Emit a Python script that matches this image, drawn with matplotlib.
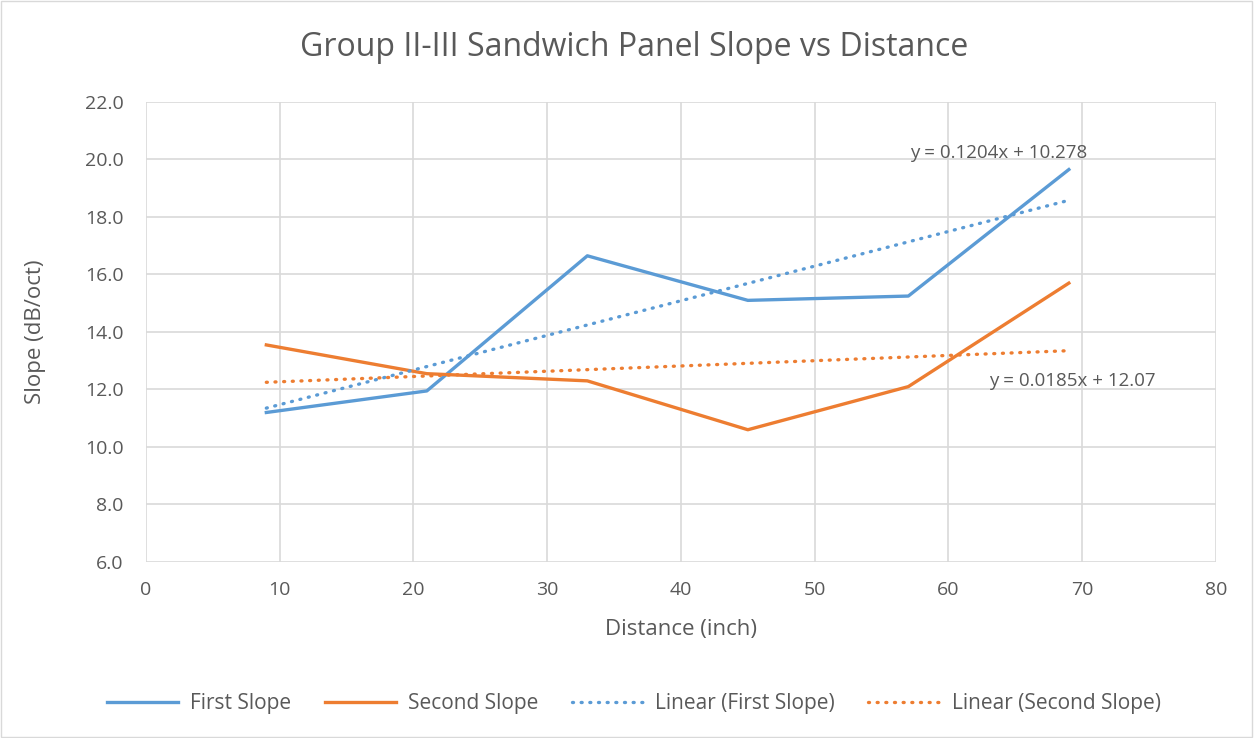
import numpy as np
import matplotlib.pyplot as plt

plt.rcParams['font.family'] = ['Open Sans', 'DejaVu Sans']

distance = [9, 21, 33, 45, 57, 69]
first_slope = [11.2, 11.95, 16.65, 15.1, 15.25, 19.65]
second_slope = [13.55, 12.55, 12.3, 10.6, 12.1, 15.7]

blue = '#5B9BD5'
orange = '#ED7D31'
grey = '#595959'

fig = plt.figure(figsize=(12.55, 7.38), dpi=100)
ax = fig.add_axes([0.1163, 0.2385, 0.8526, 0.6233])

ax.plot(distance, first_slope, color=blue, lw=2.4, label='First Slope')
ax.plot(distance, second_slope, color=orange, lw=2.4, label='Second Slope')

# linear trend lines
x = np.array(distance)
k1, b1 = np.polyfit(x, first_slope, 1)
k2, b2 = np.polyfit(x, second_slope, 1)
dots = (0, (0.3, 2.3))
ax.plot(x, k1 * x + b1, color=blue, lw=2.4, ls=dots,
        dash_capstyle='round', label='Linear (First Slope)')
ax.plot(x, k2 * x + b2, color=orange, lw=2.4, ls=dots,
        dash_capstyle='round', label='Linear (Second Slope)')

ax.text(70.4, 20.23, 'y = 0.1204x + 10.278', color=grey, fontsize=13.5,
        ha='right', va='center')
ax.text(75.5, 12.3, 'y = 0.0185x + 12.07', color=grey, fontsize=13.5,
        ha='right', va='center')

ax.set_xlim(0, 80)
ax.set_ylim(6, 22)
ax.set_xticks(range(0, 81, 10))
ax.set_yticks(np.arange(6, 22.1, 2))
ax.set_yticklabels(['%.1f' % v for v in np.arange(6, 22.1, 2)])
ax.grid(True, color='#D9D9D9', lw=1.2)
ax.set_axisbelow(True)
for s in ax.spines.values():
    s.set_visible(False)
ax.tick_params(axis='y', length=0, labelsize=14, colors=grey, pad=16)
ax.tick_params(axis='x', length=0, labelsize=14, colors=grey, pad=14)

ax.set_xlabel('Distance (inch)', fontsize=16, color=grey, labelpad=14)
ax.set_ylabel('Slope (dB/oct)', fontsize=16, color=grey, labelpad=28)
fig.text(0.505, 0.936, 'Group II-III Sandwich Panel Slope vs Distance',
         fontsize=23, color=grey, ha='center', va='center')

fig.legend(loc='center', bbox_to_anchor=(0.505, 0.047), ncol=4, frameon=False,
           fontsize=15, labelcolor=grey, handlelength=3.4, handletextpad=0.6,
           columnspacing=1.6)

fig.patches.append(plt.Rectangle((0.001, 0.001), 0.997, 0.997,
                                 transform=fig.transFigure, fill=False,
                                 edgecolor='#D9D9D9', lw=1))

fig.savefig('out.png', dpi=100)
